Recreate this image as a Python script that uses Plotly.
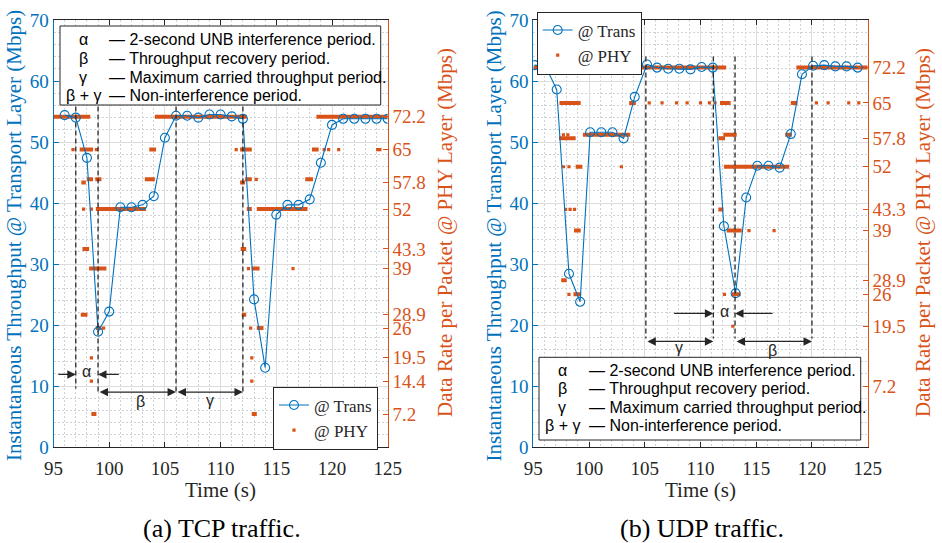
import plotly.graph_objects as go

W, H = 942, 543

BLUE = '#0072BD'
ORANGE = '#D95319'
DARK = '#262626'
GRID = '#dcdcdc'
MINOR = '#cfd3d8'
SERIF = 'Liberation Serif'
SANS = 'Liberation Sans'

# ---------------- (a) TCP traffic ----------------
tcp_time = list(range(96, 126))
tcp_trans = [54.4, 54.0, 47.4, 18.9, 22.2, 39.3, 39.3, 39.7, 41.1, 50.7,
             54.3, 54.3, 54.0, 54.5, 54.5, 54.2, 53.8, 24.2, 13.0, 38.1,
             39.7, 39.7, 40.6, 46.6, 52.8, 53.8, 53.8, 53.8, 53.8, 53.8]

# dense runs of packets at one PHY rate: (start s, end s, rate Mbps)
tcp_phy_runs = [
    (95.0, 98.3, 72.2), (104.1, 112.35, 72.2), (118.6, 125.0, 72.2),
    (97.35, 98.55, 65), (103.6, 104.2, 65), (111.75, 112.8, 65), (118.2, 118.8, 65),
    (98.0, 98.55, 58.5), (98.75, 99.3, 58.5), (103.2, 104.1, 58.5),
    (112.2, 112.8, 58.5), (117.6, 118.3, 58.5),
    (97.5, 97.9, 57.8), (111.75, 112.2, 57.8),
    (98.8, 103.3, 52), (112.35, 112.8, 52), (113.25, 117.8, 52),
    (97.6, 98.2, 43.3), (111.8, 112.3, 43.3),
    (98.2, 99.75, 39), (112.8, 113.5, 39),
    (97.45, 98.05, 28.9), (111.9, 112.3, 28.9),
    (98.8, 99.3, 26), (113.25, 113.85, 26),
    (98.4, 98.85, 7.2), (112.8, 113.25, 7.2),
]
# isolated packets: (time s, rate Mbps)
tcp_phy_dots = [
    (96.75, 65), (98.85, 65), (111.4, 65), (119.3, 65), (119.7, 65),
    (120.6, 65), (124.1, 65), (124.3, 65),
    (113.2, 58.5),
    (97.7, 52), (98.4, 52),
    (112.5, 39), (116.5, 39),
    (99.5, 26), (112.7, 26),
    (98.4, 19.5), (112.8, 19.5),
    (98.4, 14.4), (112.8, 14.4),
]

# ---------------- (b) UDP traffic ----------------
udp_time = [95.1, 96.1, 97.1, 98.2, 99.2, 100.1, 101.1, 102.1, 103.1, 104.1,
            105.2, 106.1, 107.1, 108.1, 109.1, 110.1, 111.1, 112.1, 113.15, 114.1,
            115.1, 116.1, 117.1, 118.1, 119.1, 120.1, 121.1, 122.1, 123.1, 124.1]
udp_trans = [62.6, 62.4, 58.6, 28.4, 23.8, 51.6, 51.6, 51.6, 50.6, 57.4,
             62.7, 62.2, 62.0, 62.0, 61.9, 62.3, 62.2, 36.2, 25.2, 40.9,
             46.1, 46.1, 45.8, 51.3, 61.1, 62.5, 62.6, 62.4, 62.4, 62.2]

udp_phy_runs = [
    (95.0, 98.8, 72.2), (104.1, 112.3, 72.2), (118.6, 125.0, 72.2),
    (97.35, 99.25, 65), (103.6, 104.2, 65), (111.75, 112.7, 65), (118.1, 118.7, 65),
    (99.45, 103.7, 58.5), (112.05, 113.25, 58.5), (117.6, 118.2, 58.5),
    (97.3, 98.8, 57.8), (111.6, 112.2, 57.8),
    (98.8, 99.4, 52), (112.1, 117.95, 52),
    (111.6, 112.05, 43.3),
    (98.65, 99.25, 39), (112.35, 113.7, 39),
    (97.5, 98.0, 28.9),
    (98.6, 99.3, 26), (112.8, 113.6, 26),
]
udp_phy_dots = [
    (105.4, 65), (106.55, 65), (107.85, 65), (108.8, 65), (110.0, 65),
    (110.8, 65), (111.3, 65), (120.4, 65), (121.45, 65), (123.3, 65), (124.2, 65),
    (97.7, 58.5), (98.1, 58.5),
    (97.7, 52), (98.2, 52), (102.9, 52),
    (97.9, 43.3), (98.3, 43.3), (98.7, 43.3),
    (114.35, 39), (116.6, 39),
    (98.2, 26), (112.15, 26),
    (112.9, 19.5),
]

tcp_rate_ticks = [7.2, 14.4, 19.5, 26, 28.9, 39, 43.3, 52, 57.8, 65, 72.2]
udp_rate_ticks = [7.2, 19.5, 26, 28.9, 39, 43.3, 52, 57.8, 65, 72.2]

# period boundaries (s)
tcp_marks = [97, 99, 106, 112]
udp_marks = [105.1, 111.15, 113.1, 120.0]

period_rows = [
    ('α', '— 2-second UNB interference period.'),
    ('β', '— Throughput recovery period.'),
    ('γ', '— Maximum carried throughput period.'),
    ('β + γ', '— Non-interference period.'),
]


def px(x):
    return x / W


def py(y):
    return 1 - y / H


def runs_xy(runs):
    xs, ys = [], []
    for s, e, r in runs:
        xs += [s, e, None]
        ys += [r, r, None]
    return xs, ys


fig = go.Figure()

panels = [
    dict(x='x', phy='y', trans='y2', legend='legend', time=tcp_time, trans_v=tcp_trans,
         runs=tcp_phy_runs, dots=tcp_phy_dots),
    dict(x='x2', phy='y3', trans='y4', legend='legend2', time=udp_time, trans_v=udp_trans,
         runs=udp_phy_runs, dots=udp_phy_dots),
]

for p in panels:
    fig.add_trace(go.Scatter(
        x=p['time'], y=p['trans_v'], xaxis=p['x'], yaxis=p['trans'],
        mode='lines+markers', name='@ Trans', legend=p['legend'],
        line=dict(color=BLUE, width=1.1),
        marker=dict(symbol='circle-open', size=9, color=BLUE, line=dict(width=1.1)),
    ))
    rx, ry = runs_xy(p['runs'])
    fig.add_trace(go.Scatter(
        x=rx, y=ry, xaxis=p['x'], yaxis=p['phy'], mode='lines',
        line=dict(color=ORANGE, width=4), showlegend=False, hoverinfo='skip',
    ))
    fig.add_trace(go.Scatter(
        x=[d[0] for d in p['dots']], y=[d[1] for d in p['dots']],
        xaxis=p['x'], yaxis=p['phy'], mode='markers', name='@ PHY', legend=p['legend'],
        marker=dict(symbol='square', size=3.2, color=ORANGE, line=dict(width=0)),
    ))

ydom = [py(447), py(20)]
xdom_a = [px(53.5), px(387.7)]
xdom_b = [px(533.3), px(867.7)]

xcommon = dict(
    range=[95, 125], tick0=95, dtick=5, ticks='inside', ticklen=5, tickcolor=DARK,
    showline=True, linecolor=DARK, linewidth=1, mirror='ticks',
    showgrid=True, gridcolor=GRID, gridwidth=1, zeroline=False,
    minor=dict(dtick=1, showgrid=True, gridcolor=MINOR, griddash='2px,2px', ticks=''),
    tickfont=dict(family=SERIF, size=19, color=DARK), ticklabelstandoff=4,
)
trans_common = dict(
    range=[0, 70], tick0=0, dtick=10, side='left', ticks='inside', ticklen=5,
    tickcolor=BLUE, showline=True, linecolor=BLUE, linewidth=1,
    showgrid=True, gridcolor=GRID, gridwidth=1, zeroline=False,
    minor=dict(dtick=2, showgrid=True, gridcolor=MINOR, griddash='2px,2px', ticks=''),
    tickfont=dict(family=SERIF, size=19, color=BLUE),
)
phy_common = dict(
    side='right', ticks='inside', ticklen=5, tickcolor=ORANGE,
    showline=True, linecolor=ORANGE, linewidth=1, showgrid=False, zeroline=False,
    tickfont=dict(family=SERIF, size=19, color=ORANGE),
)

fig.update_layout(
    xaxis=dict(domain=xdom_a, anchor='y', **xcommon),
    xaxis2=dict(domain=xdom_b, anchor='y3', **xcommon),
    yaxis=dict(domain=ydom, anchor='x', range=[0, 93.33], tickvals=tcp_rate_ticks,
               ticktext=[f'{v:g}' for v in tcp_rate_ticks], **phy_common),
    yaxis2=dict(overlaying='y', anchor='x', **trans_common),
    yaxis3=dict(domain=ydom, anchor='x2', range=[-5.1, 81.9], tickvals=udp_rate_ticks,
                ticktext=[f'{v:g}' for v in udp_rate_ticks], **phy_common),
    yaxis4=dict(overlaying='y3', anchor='x2', **trans_common),
)

legend_common = dict(
    bgcolor='white', bordercolor=DARK, borderwidth=1,
    font=dict(family=SERIF, size=17, color=DARK), tracegroupgap=0, itemwidth=30,
)
fig.update_layout(
    legend=dict(x=px(378), y=py(418), xanchor='right', yanchor='middle', **legend_common),
    legend2=dict(x=px(536.7), y=py(43), xanchor='left', yanchor='middle', **legend_common),
)

shapes = []
annotations = []

dash_style = dict(color=DARK, width=1.3, dash='5px,3px')
for m, bottom in zip(tcp_marks, [9.6, 8.8, 8.8, 8.8]):
    shapes.append(dict(type='line', xref='x', yref='y2', x0=m, x1=m, y0=55.8, y1=bottom,
                       line=dash_style, layer='above'))
for m in udp_marks:
    shapes.append(dict(type='line', xref='x2', yref='y4', x0=m, x1=m, y0=64.0, y1=17.8,
                       line=dash_style, layer='above'))


def arrow(xr, yr, x0, x1, y, both=False):
    return dict(
        x=x1, y=y, ax=x0, ay=y, xref=xr, yref=yr, axref=xr, ayref=yr, text='',
        showarrow=True, arrowhead=2, arrowsize=1.3, arrowwidth=1.3, arrowcolor=DARK,
        arrowside='end+start' if both else 'end', startarrowhead=2, startarrowsize=1.3,
        standoff=0, startstandoff=0,
    )


def label(xr, yr, x, y, s):
    return dict(x=x, y=y, xref=xr, yref=yr, text=s, showarrow=False,
                font=dict(family=SANS, size=16, color=DARK))


# (a) annotations for the periods
annotations += [
    arrow('x', 'y2', 95.3, 97, 11.9),
    arrow('x', 'y2', 101.0, 99, 11.9),
    label('x', 'y2', 97.95, 12.3, 'α'),
    arrow('x', 'y2', 99, 106, 9.0, both=True),
    arrow('x', 'y2', 106, 112, 9.0, both=True),
    label('x', 'y2', 102.8, 7.5, 'β'),
    label('x', 'y2', 109.05, 7.6, 'γ'),
]
# (b) annotations for the periods
annotations += [
    arrow('x2', 'y4', 107.5, 111.15, 21.9),
    arrow('x2', 'y4', 116.6, 113.1, 21.9),
    label('x2', 'y4', 112.15, 22.2, 'α'),
    arrow('x2', 'y4', 105.1, 111.15, 17.3, both=True),
    arrow('x2', 'y4', 113.1, 120.0, 17.3, both=True),
    label('x2', 'y4', 108.1, 16.3, 'γ'),
    label('x2', 'y4', 116.5, 15.8, 'β'),
]

# period explanation boxes
boxes = [
    dict(x0=60, x1=380.7, y0=26, y1=105, col=83.3, dash=106.5, rows=[39.3, 58.3, 77.3, 95.8]),
    dict(x0=539, x1=860.7, y0=357.3, y1=440, col=562.3, dash=587, rows=[370, 388.6, 407.3, 425.7]),
]
for b in boxes:
    shapes.append(dict(type='rect', xref='paper', yref='paper',
                       x0=px(b['x0']), x1=px(b['x1']), y0=py(b['y0']), y1=py(b['y1']),
                       fillcolor='white', line=dict(color=DARK, width=1), layer='above'))
    for (sym, desc), yy in zip(period_rows, b['rows']):
        annotations.append(dict(x=px(b['col']), y=py(yy), xref='paper', yref='paper',
                                text=sym, showarrow=False, xanchor='center', yanchor='middle',
                                font=dict(family=SANS, size=16, color='black')))
        annotations.append(dict(x=px(b['dash']), y=py(yy), xref='paper', yref='paper',
                                text=desc, showarrow=False, xanchor='left', yanchor='middle',
                                font=dict(family=SANS, size=16, color='black')))

# axis titles and captions
trans_title = 'Instantaneous Throughput @ Transport Layer (Mbps)'
phy_title = 'Data Rate per Packet @ PHY Layer (Mbps)'
for xl, xr_, xc, cap in [(14, 445, 220.6, '(a) TCP traffic.'), (493.5, 923, 700.5, '(b) UDP traffic.')]:
    annotations.append(dict(x=px(xl), y=py(236), xref='paper', yref='paper', text=trans_title,
                            textangle=-90, showarrow=False, xanchor='center', yanchor='middle',
                            font=dict(family=SERIF, size=21, color=BLUE)))
    annotations.append(dict(x=px(xr_), y=py(233), xref='paper', yref='paper', text=phy_title,
                            textangle=-90, showarrow=False, xanchor='center', yanchor='middle',
                            font=dict(family=SERIF, size=21, color=ORANGE)))
    annotations.append(dict(x=px(xc), y=py(490), xref='paper', yref='paper', text='Time (s)',
                            showarrow=False, xanchor='center', yanchor='middle',
                            font=dict(family=SERIF, size=21, color=DARK)))
    annotations.append(dict(x=px(xc + 1.5), y=py(528), xref='paper', yref='paper', text=cap,
                            showarrow=False, xanchor='center', yanchor='middle',
                            font=dict(family=SERIF, size=26, color='black')))

fig.update_layout(
    template='none', width=W, height=H, autosize=False,
    margin=dict(l=0, r=0, t=0, b=0, pad=0),
    paper_bgcolor='white', plot_bgcolor='white',
    shapes=shapes, annotations=annotations,
)

fig.write_html('out.html')
